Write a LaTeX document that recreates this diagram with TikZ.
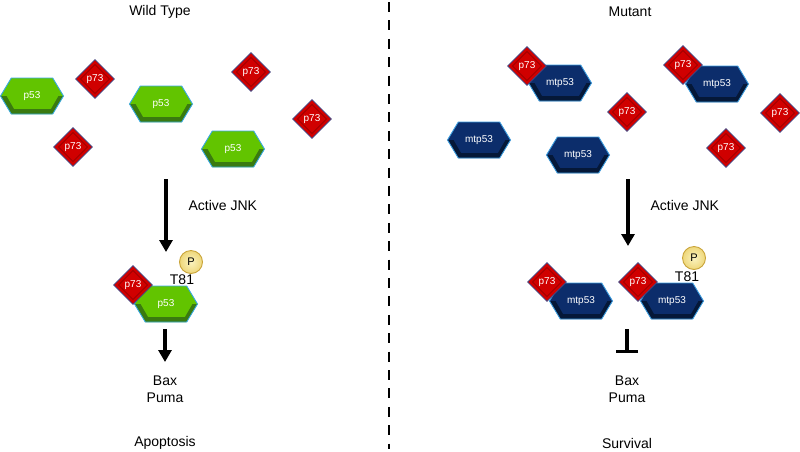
\documentclass[tikz,border=0pt]{standalone}
\usepackage{fontspec}
\setmainfont{Liberation Sans}
\usetikzlibrary{shapes.geometric,shapes.symbols,arrows.meta,calc}

\definecolor{wtlight}{HTML}{62C400}
\definecolor{wtdark}{HTML}{3A7A10}
\definecolor{wtedge}{HTML}{38A8E0}
\definecolor{mtlight}{HTML}{0C2D6B}
\definecolor{mtdark}{HTML}{051838}
\definecolor{mtedge}{HTML}{3A9ADC}
\definecolor{redfill}{HTML}{D00000}
\definecolor{redinner}{HTML}{A00000}
\definecolor{rededge}{HTML}{3A4A8A}
\definecolor{phoslight}{HTML}{FBF3C0}
\definecolor{phosdark}{HTML}{EED77A}
\definecolor{phosedge}{HTML}{C9A43A}

\tikzset{
  % hexagon for p53 and the mutant form
  protein/.style={signal, signal to=west and east, signal pointer angle=118,
    minimum width=63pt, minimum height=36pt, inner sep=0pt, line width=0.9pt,
    text=white, font=\fontsize{10}{11}\selectfont},
  bevel/.style={path picture={
    \fill[#1] (path picture bounding box.west) -- ++(10.8,18) -- ++(41.4,0)
      -- ++(10.8,-18) -- ++(-5,0) -- ++(-7.5,13) -- ++(-37,0) -- ++(-7.5,-13) -- cycle;}},
  wtp/.style={protein, draw=wtedge, fill=wtlight, bevel=wtdark},
  mtp/.style={protein, draw=mtedge, fill=mtlight, bevel=mtdark},
  % diamond for p73
  p73/.style={diamond, aspect=1, minimum size=39pt, inner sep=0pt,
    fill=redfill, draw=rededge, line width=0.7pt,
    text=white, font=\fontsize{10}{11}\selectfont,
    path picture={
      \draw[redinner, line width=0.9pt] ($(path picture bounding box.center)+(0,-14.5)$)
        -- ++(14.5,14.5) -- ++(-14.5,14.5) -- ++(-14.5,-14.5) -- cycle;}},
  phos/.style={circle, minimum size=23pt, inner sep=0pt, inner color=phoslight,
    outer color=phosdark, draw=phosedge, line width=0.9pt,
    font=\fontsize{11}{12}\selectfont},
  lbl/.style={font=\fontsize{14}{17}\selectfont, align=center},
  act/.style={line width=3.4pt, -{Triangle[width=13pt,length=12pt]}},
  blocked/.style={line width=3.4pt, -{Bar[width=22pt]}},
  divider/.style={line width=2.6pt, dash pattern=on 10pt off 8.4pt}
}

\begin{document}
\begin{tikzpicture}[x=1pt, y=-1pt]
  \useasboundingbox (0,0) rectangle (800,451);

  % wild type
  \node[lbl] (wtTitle) at (160,12) {Wild Type};
  \node[wtp] (p53a) at (32,96) {p53};
  \node[wtp] (p53b) at (161,104) {p53};
  \node[wtp] (p53c) at (233,149) {p53};
  \node[p73] (p73a) at (95,79) {p73};
  \node[p73] (p73b) at (73,147) {p73};
  \node[p73] (p73c) at (251,72) {p73};
  \node[p73] (p73d) at (312,119) {p73};

  \coordinate (wtJnkTop) at (166,179);
  \coordinate (wtJnkEnd) at (166,252);
  \draw[act] (wtJnkTop) -- (wtJnkEnd);
  \node[lbl, anchor=west] (wtJnk) at (185,205) {Active JNK};

  % phosphorylated complex
  \node[wtp] (p53d) at (166,304) {p53};
  \node[p73] (p73e) at (133,285) {p73};
  \node[phos] (phosL) at (191,262) {P};
  \node[lbl] (t81L) at (182,280) {T81};

  \node[lbl] (wtTargets) at (165,389) {Bax\\Puma};
  \node[lbl] (wtFate) at (165,443) {Apoptosis};
  \coordinate (wtOutTop) at (165,329);
  \coordinate (wtOutEnd) at (165,362);
  \draw[act] (wtOutTop) -- (wtOutEnd);

  % divider
  \coordinate (divTop) at (389,2);
  \coordinate (divBot) at (389,449);
  \draw[divider] (divTop) -- (divBot);

  % mutant
  \node[lbl] (mtTitle) at (630,12) {Mutant};
  \node[mtp] (mtp53a) at (560,83) {mtp53};
  \node[mtp] (mtp53b) at (479,140) {mtp53};
  \node[mtp] (mtp53c) at (578,155) {mtp53};
  \node[mtp] (mtp53d) at (717,84) {mtp53};
  \node[p73] (p73f) at (527,66) {p73};
  \node[p73] (p73g) at (627,112) {p73};
  \node[p73] (p73h) at (683,65) {p73};
  \node[p73] (p73i) at (780,113) {p73};
  \node[p73] (p73j) at (726,148) {p73};

  \coordinate (mtJnkTop) at (628,179);
  \coordinate (mtJnkEnd) at (628,246);
  \draw[act] (mtJnkTop) -- (mtJnkEnd);
  \node[lbl, anchor=west] (mtJnk) at (647,205) {Active JNK};

  % complexes
  \node[mtp] (mtp53e) at (581,301) {mtp53};
  \node[mtp] (mtp53f) at (672,301) {mtp53};
  \node[p73] (p73k) at (547,282) {p73};
  \node[p73] (p73l) at (638,282) {p73};
  \node[phos] (phosR) at (694,258) {P};
  \node[lbl] (t81R) at (687,277) {T81};

  \node[lbl] (mtTargets) at (627,389) {Bax\\Puma};
  \node[lbl] (mtFate) at (627,443) {Survival};
  \coordinate (mtOutTop) at (627,329);
  \coordinate (mtOutEnd) at (627,353);
  \draw[blocked] (mtOutTop) -- (mtOutEnd);
\end{tikzpicture}
\end{document}
